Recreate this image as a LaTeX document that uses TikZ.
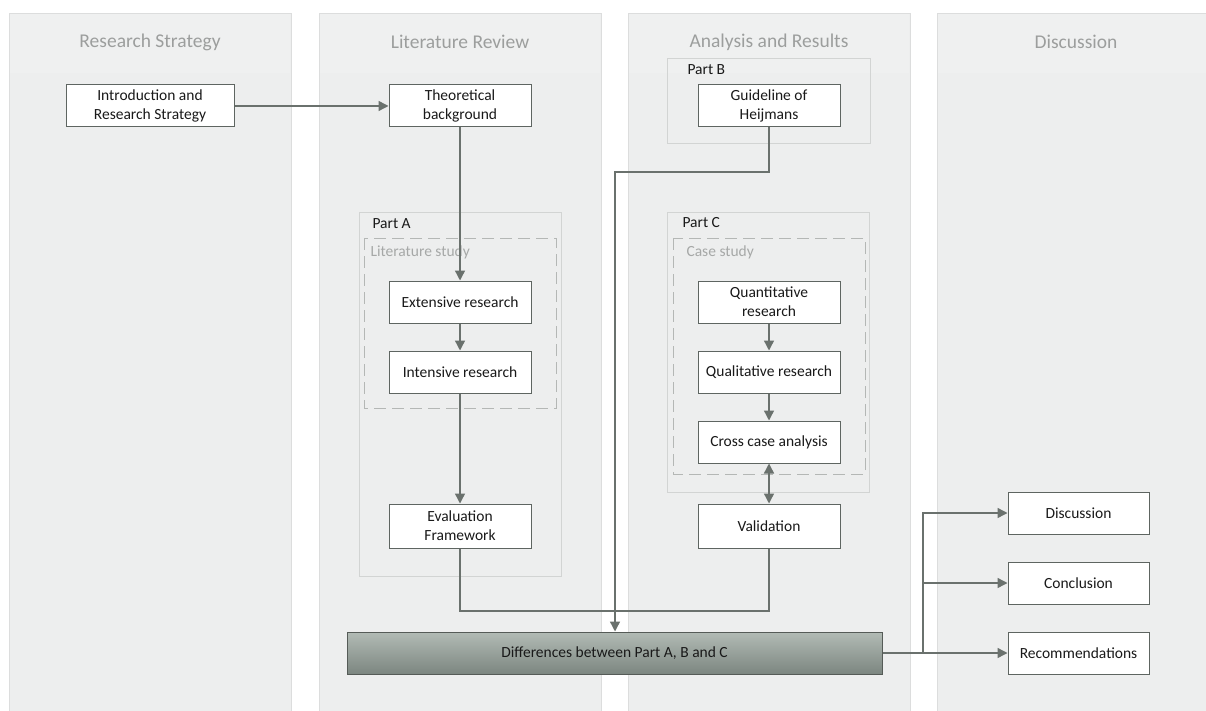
\documentclass[tikz,border=0pt]{standalone}
\usepackage{fontspec}
\setmainfont{Carlito}
\usetikzlibrary{arrows.meta,positioning}
\definecolor{lanefill}{HTML}{EDEEEE}
\definecolor{laneedge}{HTML}{DCDDDD}
\definecolor{headfill}{HTML}{EFF0F0}
\definecolor{titlegray}{HTML}{9C9E9D}
\definecolor{wire}{HTML}{6A716D}
\definecolor{boxedge}{HTML}{5E6561}
\definecolor{partedge}{HTML}{D2D4D3}
\definecolor{dashedge}{HTML}{B4B7B5}
\definecolor{difftop}{HTML}{B2BBB5}
\definecolor{diffbot}{HTML}{7C8680}
\tikzset{
  lane/.style={fill=lanefill, draw=laneedge, line width=0.8pt},
  lanetitle/.style={text=titlegray, font=\fontsize{19.5}{22}\selectfont},
  stepbox/.style={draw=boxedge, fill=white, line width=1pt, minimum width=142pt,
    minimum height=42pt, align=center, text=black!90,
    font=\fontsize{15.5}{19}\selectfont, inner sep=2pt},
  partbox/.style={draw=partedge, line width=0.8pt},
  dashbox/.style={draw=dashedge, line width=0.8pt, dash pattern=on 12pt off 6pt},
  partlabel/.style={anchor=west, text=black!90, font=\fontsize{15.5}{17}\selectfont},
  studylabel/.style={anchor=west, text=titlegray!90, font=\fontsize{15.5}{17}\selectfont},
  flow/.style={draw=wire, line width=1.4pt, -{Triangle[length=10pt,width=10pt]}},
  flowboth/.style={draw=wire, line width=1.4pt, {Triangle[length=10pt,width=10pt]}-{Triangle[length=10pt,width=10pt]}},
  wireline/.style={draw=wire, line width=1.4pt},
}
\begin{document}
\begin{tikzpicture}[x=1pt, y=-1pt]
\useasboundingbox (0,0) rectangle (1206,711);
\fill[white] (0,0) rectangle (1206,711);

% swim lanes with their header bands
\foreach \xa/\xb in {9/291, 319/601, 628/910, 937/1215} {
  \draw[lane] (\xa,13) rectangle (\xb,720);
  \fill[headfill] (\xa+1,14) rectangle (\xb-1,73);
}
\node[lanetitle] (t1) at (150,42) {Research Strategy};
\node[lanetitle] (t2) at (460,42) {Literature Review};
\node[lanetitle] (t3) at (769,42) {Analysis and Results};
\node[lanetitle] (t4) at (1076,42) {Discussion};

% grouping frames
\draw[partbox] (667,58) rectangle (870,143);
\node[partlabel] (lblB) at (684,70) {Part B};
\draw[partbox] (359,212) rectangle (561,576);
\node[partlabel] (lblA) at (369,224) {Part A};
\draw[dashbox] (364,238) rectangle (556,408);
\node[studylabel] (lblLit) at (367,252) {Literature study};
\draw[partbox] (667,212) rectangle (869,492);
\node[partlabel] (lblC) at (679,223) {Part C};
\draw[dashbox] (673,238) rectangle (865,474);
\node[studylabel] (lblCase) at (683,252) {Case study};

% process steps
\node[stepbox, minimum width=168pt] (intro) at (150,106) {Introduction and\\Research Strategy};
\node[stepbox] (theo) at (460,106) {Theoretical\\background};
\node[stepbox] (guide) at (769,106) {Guideline of\\Heijmans};
\node[stepbox] (ext) at (460,302) {Extensive research};
\node[stepbox] (int) at (460,372) {Intensive research};
\node[stepbox, minimum height=44pt] (eval) at (460,526) {Evaluation\\Framework};
\node[stepbox] (quant) at (769,302) {Quantitative\\research};
\node[stepbox] (qual) at (769,372) {Qualitative research};
\node[stepbox] (cross) at (769,442) {Cross case analysis};
\node[stepbox, minimum height=44pt] (valid) at (769,526) {Validation};
\node[stepbox, draw=boxedge!90!black, minimum width=535pt, top color=difftop,
      bottom color=diffbot] (diff) at (614.5,653) {Differences between Part A, B and C};
\node[stepbox, minimum width=141pt] (disc) at (1078.5,513) {Discussion};
\node[stepbox, minimum width=141pt] (concl) at (1078.5,583) {Conclusion};
\node[stepbox, minimum width=141pt] (rec) at (1078.5,653) {Recommendations};

% routing points
\coordinate (gturn) at (615,172);
\coordinate (merge) at (615,611);
\coordinate (split) at (923,653);

% connectors
\draw[flow] (intro.east) -- (theo.west);
\draw[flow] (theo.south) -- (ext.north);
\draw[flow] (ext.south) -- (int.north);
\draw[flow] (int.south) -- (eval.north);
\draw[flow] (quant.south) -- (qual.north);
\draw[flow] (qual.south) -- (cross.north);
\draw[flowboth] (cross.south) -- (valid.north);
\draw[wireline] (eval.south) |- (merge) -| (valid.south);
\draw[flow] (guide.south) |- (gturn) -- (gturn |- diff.north);
\draw[wireline] (diff.east) -- (split);
\draw[flow] (split) -- (rec.west);
\draw[flow] (split) |- (concl.west);
\draw[flow] (split) |- (disc.west);
\end{tikzpicture}
\end{document}
